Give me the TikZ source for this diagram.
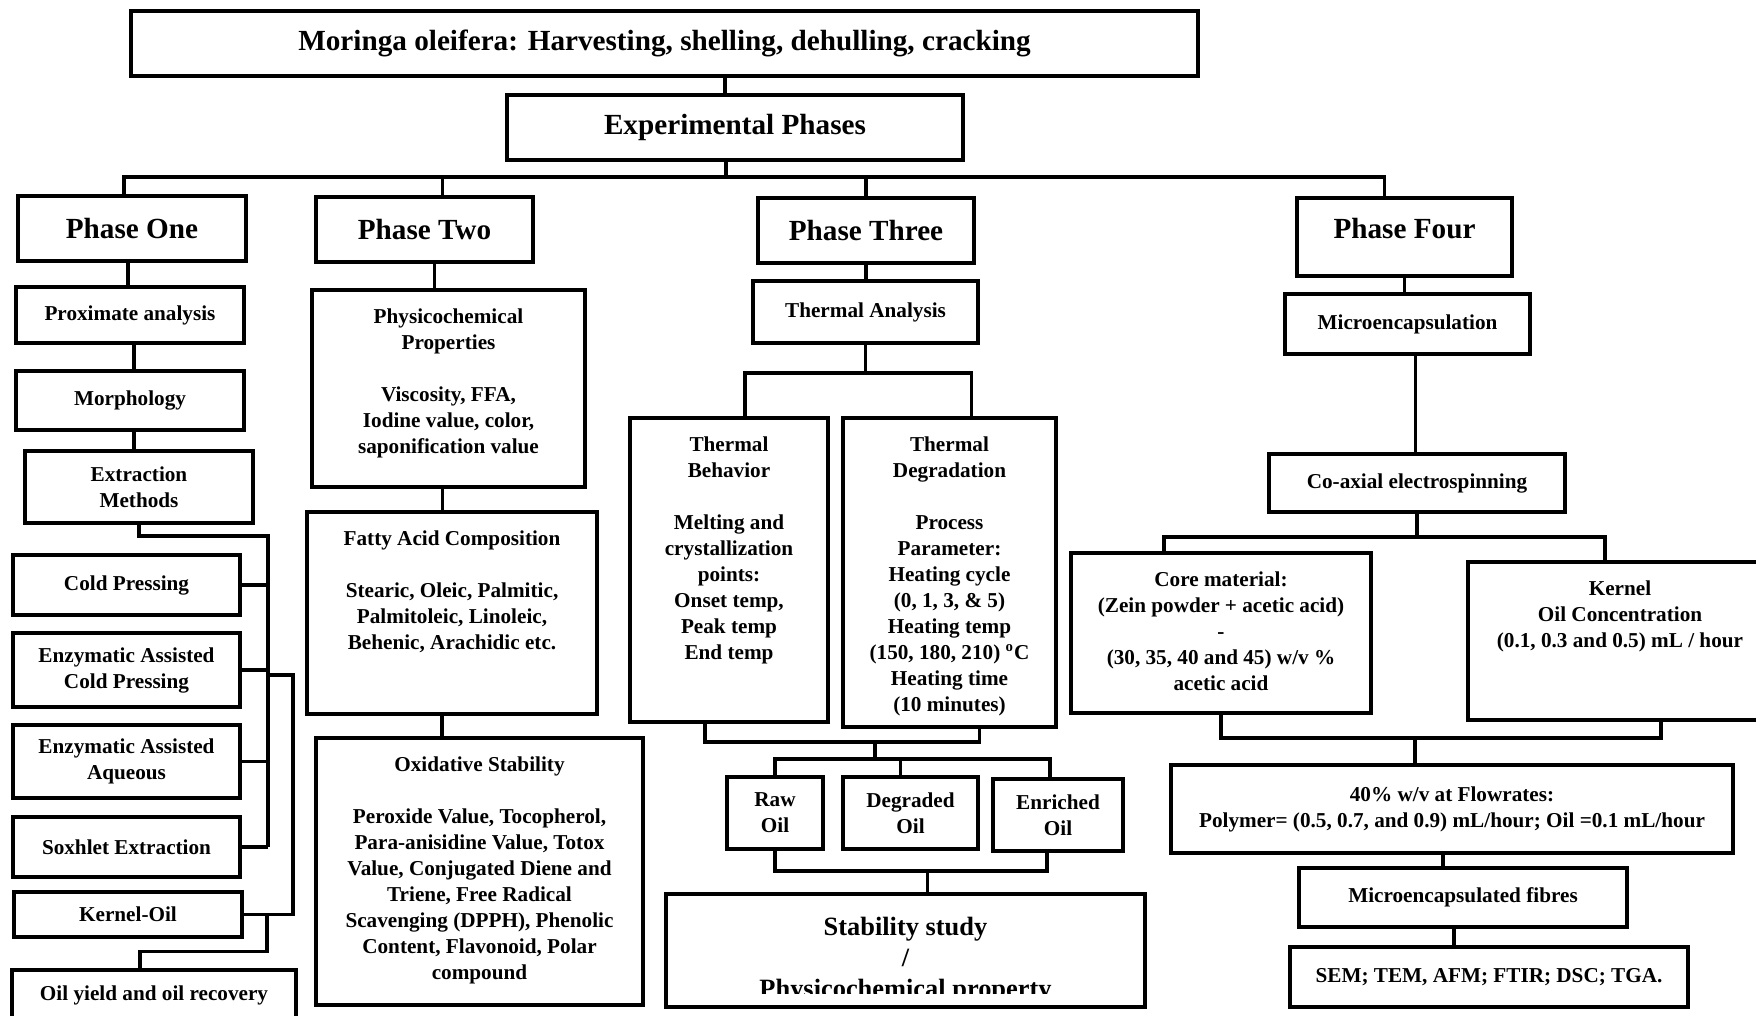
\documentclass[tikz,border=0pt]{standalone}
\usepackage{fontspec}
\setmainfont{Liberation Serif}
\newcommand{\topbox}[3]{\parbox[c][#2][t]{#1}{\centering\vspace*{9.3pt}#3}}

\begin{document}
\begin{tikzpicture}[x=0.5pt,y=-0.5pt]
\tikzstyle{box}=[draw,line width=2pt,inner sep=0pt,align=center,font=\fontsize{10.6}{13}\selectfont\bfseries]%
\tikzstyle{bigbox}=[box,font=\fontsize{14.6}{17}\selectfont\bfseries]%
\tikzstyle{link}=[line width=1.8pt]%
\useasboundingbox (0,0) rectangle (1756,1016);
\clip (0,0) rectangle (1756,1016);
\fill[white] (0,0) rectangle (1756,1016);
% top
\node[bigbox,minimum width=533.5pt,minimum height=32.5pt] (title) at (664.5,43.5) {Moringa oleifera: Harvesting, shelling, dehulling, cracking};
\node[bigbox,minimum width=228pt,minimum height=32.5pt] (exp) at (735,127.5) {Experimental Phases};
% phases
\node[bigbox,minimum width=114pt,minimum height=32.5pt] (p1) at (132,228.5) {Phase One};
\node[bigbox,minimum width=108.5pt,minimum height=32.5pt] (p2) at (424.5,229.5) {Phase Two};
\node[bigbox,minimum width=108pt,minimum height=32.5pt] (p3) at (866,230.5) {Phase Three};
\node[bigbox,minimum width=107.5pt,minimum height=39pt,text height=10pt,text depth=8pt] (p4) at (1404.5,237) {Phase Four};
% phase one
\node[box,minimum width=114pt,minimum height=28pt] (prox) at (130,315) {Proximate analysis};
\node[box,minimum width=114pt,minimum height=29.5pt] (morph) at (130,400.5) {Morphology};
\node[box,minimum width=114pt,minimum height=36pt] (extr) at (139,487) {Extraction\\Methods};
\node[box,minimum width=113.5pt,minimum height=30pt] (cold) at (126.5,585) {Cold Pressing};
\node[box,minimum width=113.5pt,minimum height=37pt] (ecold) at (126.5,670) {Enzymatic Assisted\\Cold Pressing};
\node[box,minimum width=113.5pt,minimum height=36.5pt] (eaq) at (126.5,761.5) {Enzymatic Assisted\\Aqueous};
\node[box,minimum width=113.5pt,minimum height=30pt] (sox) at (126.5,847) {Soxhlet Extraction};
\node[box,minimum width=114pt,minimum height=22.5pt] (kern) at (128,914.5) {Kernel-Oil};
\node[box,minimum width=142pt,minimum height=25pt] (oily) at (154,995) {Oil yield and oil recovery};
% phase two
\node[box] (phys) at (448.5,388.5) {\topbox{136.5pt}{98.5pt}{Physicochemical\\Properties\\[13pt]Viscosity, FFA,\\Iodine value, color,\\saponification value}};
\node[box] (fatty) at (452,613) {\topbox{145pt}{101pt}{Fatty Acid Composition\\[13pt]Stearic, Oleic, Palmitic,\\Palmitoleic, Linoleic,\\Behenic, Arachidic etc.}};
\node[box] (oxid) at (479.5,871.5) {\topbox{163.5pt}{133.5pt}{Oxidative Stability\\[13pt]Peroxide Value, Tocopherol,\\Para-anisidine Value, Totox\\Value, Conjugated Diene and\\Triene, Free Radical\\Scavenging (DPPH), Phenolic\\Content, Flavonoid, Polar\\compound}};
% phase three
\node[box,minimum width=112.5pt,minimum height=31pt] (ta) at (865.5,312) {Thermal Analysis};
\node[box] (tb) at (729,570) {\topbox{99pt}{152pt}{Thermal\\Behavior\\[13pt]Melting and\\crystallization\\points:\\Onset temp,\\Peak temp\\End temp}};
\node[box] (td) at (949.5,572.5) {\topbox{106.5pt}{154.5pt}{Thermal\\Degradation\\[13pt]Process\\Parameter:\\Heating cycle\\(0, 1, 3, \& 5)\\Heating temp\\(150, 180, 210)~\textsuperscript{o}C\\Heating time\\(10 minutes)}};
\node[box,minimum width=48pt,minimum height=36pt] (raw) at (775,813) {Raw\\Oil};
\node[box,minimum width=67.5pt,minimum height=36pt] (deg) at (910.5,813) {Degraded\\Oil};
\node[box,minimum width=65pt,minimum height=36pt] (enr) at (1058,815) {Enriched\\Oil};
\node[box,minimum width=239.5pt,minimum height=56.5pt] (stab) at (905.5,950.5) {};
\begin{scope}
\clip (666,894) rectangle (1145,993);
\node[font=\fontsize{13.2}{15.5}\selectfont\bfseries,align=center,anchor=north,inner sep=0pt] (stabtext) at ([yshift=-12.5pt]stab.north) {Stability study\\/\\Physicochemical property};
\end{scope}
% phase four
\node[box,minimum width=122.5pt,minimum height=30pt] (micro) at (1407.5,324) {Microencapsulation};
\node[box,minimum width=148pt,minimum height=29pt] (coax) at (1417,483) {Co-axial electrospinning};
\node[box] (core) at (1221,633) {\topbox{150pt}{80pt}{Core material:\\(Zein powder + acetic acid)\\-\\(30, 35, 40 and 45) w/v \%\\acetic acid}};
\node[box] (kbox) at (1620,641) {\topbox{152pt}{79pt}{Kernel\\Oil Concentration\\(0.1, 0.3 and 0.5) mL / hour}};
\node[box,minimum width=281pt,minimum height=44pt] (flow) at (1452,809) {40\% w/v at Flowrates:\\Polymer= (0.5, 0.7, and 0.9) mL/hour; Oil =0.1 mL/hour};
\node[box,minimum width=164pt,minimum height=29.5pt] (fib) at (1463,897.5) {Microencapsulated fibres};
\node[box,minimum width=199pt,minimum height=30pt] (sem) at (1489,977) {SEM; TEM, AFM; FTIR; DSC; TGA.};
% bus lines
\coordinate (bus) at (0,177);
\draw[link] ([xshift=-5pt]exp.north) -- ([xshift=-5pt]exp.north |- title.south);
\draw[link] ([xshift=-4.5pt]exp.south) -- ([xshift=-4.5pt]exp.south |- bus);
\draw[link] ([xshift=-4pt]p1.north) |- ([xshift=-10pt]p4.north |- bus) -- ([xshift=-10pt]p4.north);
\draw[link] ([xshift=9pt]p2.north) -- ([xshift=9pt]p2.north |- bus);
\draw[link] (p3.north) -- (p3.north |- bus);
% phase one links
\draw[link] ([xshift=-2pt]p1.south) -- ([xshift=-2pt]p1.south |- prox.north);
\draw[link] ([xshift=2pt]prox.south) -- ([xshift=2pt]prox.south |- morph.north);
\draw[link] ([xshift=2pt]morph.south) -- ([xshift=2pt]morph.south |- extr.north);
\coordinate (ebus) at (268,536);
\coordinate (kbus) at (293,675);
\draw[link] (extr.south) |- (ebus) -- (ebus |- sox.east);
\foreach \n in {cold,ecold,eaq,sox}
  \draw[link] (\n.east) -- (\n.east -| ebus);
\draw[link] (ebus |- kbus) -- (kbus) |- (kern.east);
\draw[link] (kern.east) ++(23,0) -- ++(0,37) -| ([xshift=-7pt]oily.north);
% phase two links
\draw[link] ([xshift=5pt]p2.south) -- ([xshift=5pt]p2.south |- phys.north);
\draw[link] ([xshift=-3pt]phys.south) -- ([xshift=-3pt]phys.south |- fatty.north);
\draw[link] ([xshift=-5pt]fatty.south) -- ([xshift=-5pt]fatty.south |- oxid.north);
% phase three links
\coordinate (tsplit) at (0,373);
\coordinate (tmid) at (875,742);
\coordinate (osplit) at (0,759);
\coordinate (ojoin) at (0,871);
\draw[link] (p3.south) -- (p3.south |- ta.north);
\draw[link] (ta.south) -- (ta.south |- tsplit);
\draw[link] ([xshift=8pt]tb.north) |- ([xshift=11pt]td.north |- tsplit) -- ([xshift=11pt]td.north);
\draw[link] ([xshift=-12pt]tb.south) |- ([xshift=15pt]td.south |- tmid) -- ([xshift=15pt]td.south);
\draw[link] (tmid) -- (tmid |- osplit);
\draw[link] (raw.north) |- ([xshift=-4pt]enr.north |- osplit) -- ([xshift=-4pt]enr.north);
\draw[link] ([xshift=-5pt]deg.north) -- ([xshift=-5pt]deg.north |- osplit);
\draw[link] (raw.south) |- ([xshift=-5.5pt]enr.south |- ojoin) -- ([xshift=-5.5pt]enr.south);
\draw[link] ([xshift=11pt]stab.north) -- ([xshift=11pt]stab.north |- ojoin);
% phase four links
\coordinate (csplit) at (0,537);
\coordinate (cjoin) at (0,738);
\draw[link] (p4.south) -- (p4.south |- micro.north);
\draw[link] ([xshift=4pt]micro.south) -- ([xshift=4pt]micro.south |- coax.north);
\draw[link] (coax.south) -- (coax.south |- csplit);
\draw[link] ([xshift=-28.5pt]core.north) |- ([xshift=-7.5pt]kbox.north |- csplit) -- ([xshift=-7.5pt]kbox.north);
\draw[link] (core.south) |- ([xshift=20.5pt]kbox.south |- cjoin) -- ([xshift=20.5pt]kbox.south);
\draw[link] ([xshift=-18.5pt]flow.north) -- ([xshift=-18.5pt]flow.north |- cjoin);
\draw[link] ([xshift=-4.5pt]flow.south) -- ([xshift=-4.5pt]flow.south |- fib.north);
\draw[link] ([xshift=-4.5pt]fib.south) -- ([xshift=-4.5pt]fib.south |- sem.north);
\end{tikzpicture}
\end{document}
